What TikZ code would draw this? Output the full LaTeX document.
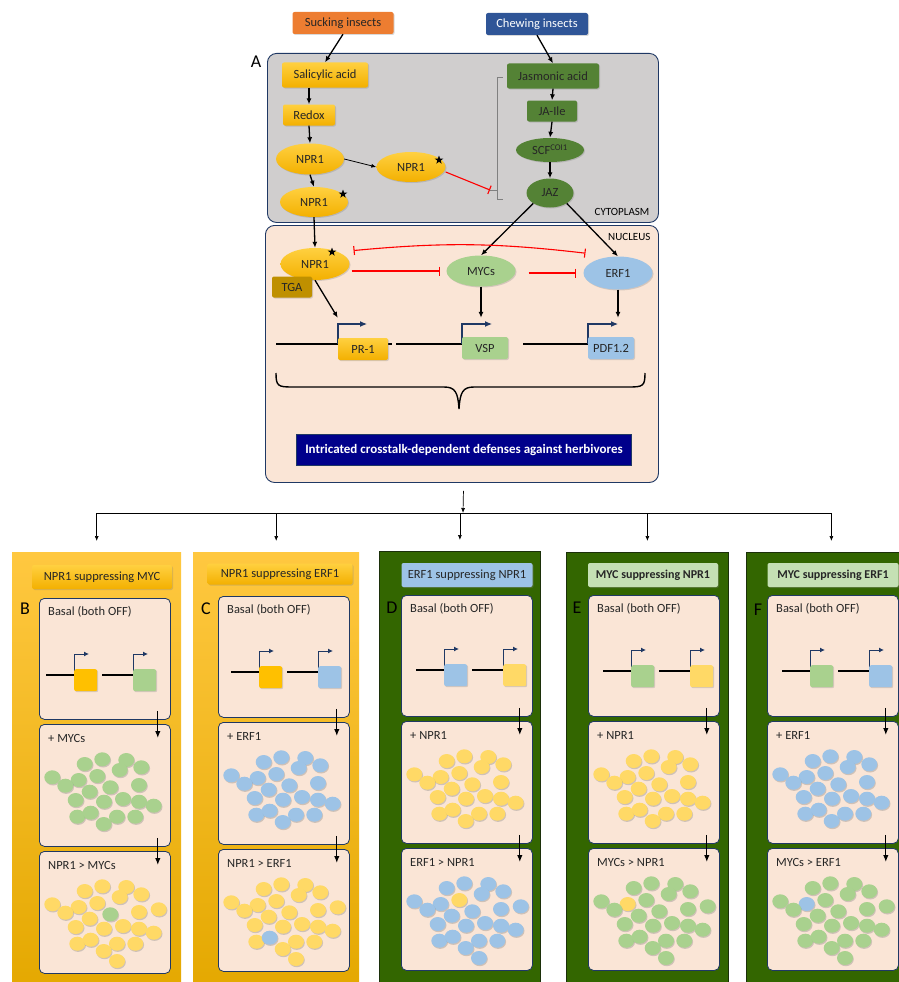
\documentclass[tikz,border=0pt]{standalone}
\usepackage{fontspec}
\setmainfont{Carlito}
\usetikzlibrary{arrows.meta,calc,shadows,shapes.geometric,positioning}

\definecolor{goldtop}{RGB}{255,208,64}
\definecolor{goldbot}{RGB}{243,176,0}
\definecolor{gold}{RGB}{255,192,0}
\definecolor{lightgold}{RGB}{255,217,102}
\definecolor{tgabrown}{RGB}{191,144,0}
\definecolor{jagreen}{RGB}{84,130,53}
\definecolor{mycgreen}{RGB}{169,209,142}
\definecolor{palegreen}{RGB}{197,224,180}
\definecolor{erfblue}{RGB}{157,195,230}
\definecolor{suckorange}{RGB}{237,125,49}
\definecolor{chewblue}{RGB}{47,85,151}
\definecolor{cellgray}{RGB}{208,206,206}
\definecolor{peach}{RGB}{250,229,214}
\definecolor{edgenavy}{RGB}{31,56,100}
\definecolor{bannerblue}{RGB}{0,0,139}
\definecolor{leafgreen}{RGB}{51,102,0}
\definecolor{leafedge}{RGB}{28,48,10}
\definecolor{paneltop}{RGB}{255,200,64}
\definecolor{panelbot}{RGB}{228,168,0}

% spots of the dots, from the north west corner of a stage box
\newcommand{\dotspots}{45.7/40, 63.3/35.3, 87.3/36, 102.3/43.3, 80.7/46, 13.3/53.3, 39.7/56, 58.3/52, 26.3/61.7, 71.3/63.3, 100/61, 50.7/67.7, 36.7/76, 65/77.7, 84/75, 100/77.7, 114.7/81.7, 38.3/92.7, 51.7/88.7, 78/92.7, 96.3/92.7, 64.7/100}
\newcommand{\dotextra}{119.7/58.3, 78/110}
% two genes, both off
\newcommand{\genepair}[5]{%
  \draw[minidna] (#2,#3) -- (#2+28,#3);
  \draw[minidna] (#2+56,#3) -- (#2+87,#3);
  \draw[miniprom] (#2+28,#3) -- (#2+28,#3-21) -- (#2+43,#3-21);
  \draw[miniprom] (#2+87,#3) -- (#2+87,#3-21) -- (#2+102,#3-21);
  \node[genesq, fill=#4, anchor=north west] (#1ga) at (#2+28,#3-6) {};
  \node[genesq, fill=#5, anchor=north west] (#1gb) at (#2+87,#3-6) {};
}

\begin{document}
\begin{tikzpicture}[x=1pt,y=-1pt,font=\fontsize{12.5}{15}\selectfont]

\tikzset{
  molbox/.style={rectangle, rounded corners=2pt, inner sep=1pt, align=center, text=black!85,
    drop shadow={opacity=0.3, shadow xshift=1pt, shadow yshift=-1pt}},
  goldbox/.style={molbox, top color=goldtop, bottom color=goldbot},
  jabox/.style={molbox, fill=jagreen},
  oval/.style={ellipse, inner sep=0pt, text=black!85,
    drop shadow={opacity=0.3, shadow xshift=1pt, shadow yshift=-1pt}},
  goldoval/.style={oval, top color=goldtop, bottom color=goldbot},
  jaoval/.style={oval, fill=jagreen},
  starmark/.style={star, star points=5, star point ratio=2.5, fill=black, inner sep=0pt, minimum size=9pt},
  compartment/.style={rectangle, rounded corners=9pt, draw=edgenavy, line width=0.9pt, anchor=north west},
  banner/.style={rectangle, fill=bannerblue, draw=edgenavy, text=white, font=\fontsize{13}{15}\selectfont\bfseries},
  panellab/.style={font=\fontsize{18}{20}\selectfont, inner sep=0pt},
  act/.style={-{Latex[length=6pt,width=5pt]}, line width=1.3pt},
  thinact/.style={-{Latex[length=5pt,width=4pt]}, line width=0.8pt},
  inh/.style={-{Bar[width=9pt]}, draw=red, line width=1.1pt},
  dualinh/.style={{Bar[width=9pt]}-{Bar[width=9pt]}, draw=red, line width=1.1pt},
  dna/.style={line width=1.4pt},
  promoter/.style={-{Latex[length=7pt,width=6pt]}, line width=1.1pt, draw=edgenavy},
  minidna/.style={line width=1.2pt},
  miniprom/.style={-{Latex[length=5pt,width=5pt]}, line width=1pt, draw=edgenavy},
  bracketline/.style={draw=gray, line width=0.6pt},
  flowar/.style={-{Latex[length=5pt,width=4pt]}, line width=0.7pt},
  stepar/.style={-{Latex[length=7pt,width=5.5pt]}, line width=1.2pt},
  blob/.style={ellipse, inner sep=0pt, minimum width=16, minimum height=14,
    drop shadow={opacity=0.35, shadow xshift=0.8pt, shadow yshift=-1.2pt}},
  genesq/.style={rectangle, rounded corners=2pt, inner sep=0pt, minimum width=23, minimum height=22,
    drop shadow={opacity=0.3, shadow xshift=1pt, shadow yshift=-1pt}},
  stagebox/.style={rectangle, rounded corners=5pt, fill=peach, draw=edgenavy, line width=0.8pt,
    anchor=north west, minimum width=131},
  steptext/.style={anchor=west, inner sep=0pt, text=black!85},
  goldpanel/.style={rectangle, anchor=north west, top color=paneltop, bottom color=panelbot, minimum height=440},
  leafpanel/.style={rectangle, anchor=north west, fill=leafgreen, draw=leafedge, line width=0.8pt, minimum height=440}
}

\useasboundingbox (0,0) rectangle (899,982);

% cell
\node[compartment, fill=cellgray, minimum width=391, minimum height=169] (cyto) at (267,53) {};
\node[compartment, fill=peach, minimum width=393, minimum height=257] (nuc) at (265,225) {};
\node[anchor=south east, font=\fontsize{11}{13}\selectfont] (cytolab) at ($(cyto.south east)+(-6,-4)$) {CYTOPLASM};
\node[anchor=north east, font=\fontsize{11}{13}\selectfont] (nuclab) at ($(nuc.north east)+(-5,5)$) {NUCLEUS};
\node[panellab] (labA) at (256,62) {A};

\node[molbox, fill=suckorange, minimum width=101, minimum height=22] (suck) at (343,23) {Sucking insects};
\node[molbox, fill=chewblue, text=white, minimum width=102, minimum height=22] (chew) at (537,24) {Chewing insects};

% SA side
\node[goldbox, minimum width=86, minimum height=25] (sa) at (325,75) {Salicylic acid};
\node[goldbox, minimum width=52, minimum height=21] (redox) at (309,115) {Redox};
\node[goldoval, minimum width=68, minimum height=31] (npa) at (310,159) {NPR1};
\node[goldoval, minimum width=69, minimum height=30] (npb) at (411,167) {NPR1};
\node[goldoval, minimum width=68, minimum height=30] (npc) at (314,202) {NPR1};
\node[starmark] (npbs) at (439,160) {};
\node[starmark] (npcs) at (343,194) {};

% JA side
\node[jabox, minimum width=92, minimum height=25] (ja) at (553,76) {Jasmonic acid};
\node[jabox, minimum width=50, minimum height=21] (jaile) at (552,111) {JA-Ile};
\node[jaoval, minimum width=68, minimum height=24] (scf) at (550,150) {SCF\textsuperscript{COI1}};
\node[jaoval, minimum width=47, minimum height=29] (jaz) at (550,193) {JAZ};
\draw[bracketline] ($(ja.west)+(-4,1)$) -- ++(-6,0) |- ($(jaz.west)+(-23.5,6)$);
\coordinate (brk) at (490,190);
\draw[bracketline] (brk) -- ++(7,0);

\draw[act] (suck.south) -- (sa.north);
\draw[act] (chew.south) -- (ja.north);
\draw[act] (sa.south -| redox.north) -- (redox.north);
\draw[act] (redox.south) -- (npa.north);
\draw[thinact] (npa.east) -- (npb.west);
\draw[act] (npa.south) -- (npc.north);
\draw[act] (ja.south) -- (jaile.north);
\draw[act] (jaile.south) -- (scf.north);
\draw[act] (scf.south) -- (jaz.north);
\draw[inh] ($(npb.east)+(0,5)$) -- (brk);

% nucleus
\node[goldoval, minimum width=69, minimum height=32] (npn) at (315,264) {NPR1};
\node[starmark] (npns) at (332,252) {};
\node[molbox, fill=tgabrown, minimum width=40, minimum height=21] (tga) at (292,287) {TGA};
\node[oval, fill=mycgreen, minimum width=69, minimum height=31] (myc) at (481,271) {MYCs};
\node[oval, fill=erfblue, minimum width=69, minimum height=33] (erf) at (618,273) {ERF1};

\draw[act] (npc.south) -- (npn.north);
\draw[act] (jaz.south west) -- (myc.north);
\draw[act] (jaz.south east) -- (erf.north);
\draw[inh] ($(npn.east)+(2,7)$) -- ($(myc.west)+(-6,0)$);
\draw[inh] ($(myc.east)+(13,2)$) -- ($(erf.west)+(-7,0)$);
\draw[dualinh] ($(npn.north east)+(14,-2)$) to[bend left=6] ($(erf.north west)+(-8,-8)$);

\draw[dna] (276,344) -- (392,344);
\draw[dna] (396,344) -- (462,344);
\draw[dna] (523,344) -- (588,344);
\draw[promoter] (338,344) -- (338,324) -- (367,324);
\draw[promoter] (462,344) -- (462,324) -- (492,324);
\draw[promoter] (588,344) -- (588,324) -- (618,324);
\node[goldbox, minimum width=50, minimum height=22] (pr) at (363,349) {PR-1};
\node[molbox, fill=mycgreen, minimum width=46, minimum height=22] (vsp) at (485,348) {VSP};
\node[molbox, fill=erfblue, minimum width=46, minimum height=22] (pdf) at (611,348) {PDF1.2};
\draw[act] (npn.south) -- ($(pr.north west)+(0,-20)$);
\draw[act] (myc.south) -- ($(vsp.north)+(-4,-19)$);
\draw[act] (erf.south) -- ($(pdf.north)+(7,-19)$);

\draw[line width=1.4pt] (276,373) .. controls (276,386) and (278,387) .. (292,387) -- (444,387)
  .. controls (455,387) and (458,392) .. (459,409) .. controls (460,392) and (463,387) .. (474,387)
  -- (629,387) .. controls (643,387) and (645,386) .. (645,373);
\node[banner, minimum width=335, minimum height=31] (defense) at (464,450) {Intricated crosstalk-dependent defenses against herbivores};

% panels
\node[goldpanel, minimum width=169] (pB) at (12,552) {};
\node[goldpanel, minimum width=166] (pC) at (193,552) {};
\node[leafpanel, minimum width=161] (pD) at (379,551) {};
\node[leafpanel, minimum width=162] (pE) at (566,552) {};
\node[leafpanel, minimum width=170] (pF) at (746,552) {};

\coordinate (split) at (463,513);
\draw[flowar] ($(nuc.south)+(1.5,8)$) -- (split);
\draw[line width=0.7pt] (split -| pB.north) -- (split -| pF.north);
\foreach \q in {pB,pC,pD,pE,pF}
  \draw[flowar] (split -| \q.north) -- ([yshift=11pt]\q.north);

\node[goldbox, minimum width=140, minimum height=24] (hB) at (102,577) {NPR1 suppressing MYC};
\node[goldbox, minimum width=145, minimum height=21] (hC) at (280,574) {NPR1 suppressing ERF1};
\node[molbox, fill=erfblue, minimum width=131, minimum height=24] (hD) at (467,575) {ERF1 suppressing NPR1};
\node[molbox, fill=palegreen, minimum width=130, minimum height=24, font=\fontsize{12}{14}\selectfont\bfseries] (hE) at (653,575) {MYC suppressing NPR1};
\node[molbox, fill=palegreen, minimum width=131, minimum height=24, font=\fontsize{12}{14}\selectfont\bfseries] (hF) at (833,575) {MYC suppressing ERF1};

\node[panellab] (labB) at (25,609) {B};
\node[panellab] (labC) at (206,609) {C};
\node[panellab] (labD) at (392,608) {D};
\node[panellab] (labE) at (577,608) {E};
\node[panellab] (labF) at (758,610) {F};

\foreach \pn/\bx/\by/\gx/\gy/\sqa/\sqb/\tta/\ttb/\dca/\dcb/\oi/\oc in {
  B/39/598/46/675/gold/mycgreen/{+ MYCs}/{NPR1 > MYCs}/mycgreen/lightgold/10/mycgreen,
  C/218/596/231/672/gold/erfblue/{+ ERF1}/{NPR1 > ERF1}/erfblue/lightgold/19/erfblue,
  D/401/595/416/670/erfblue/lightgold/{+ NPR1}/{ERF1 > NPR1}/lightgold/erfblue/8/lightgold,
  E/588/595/603/671/mycgreen/lightgold/{+ NPR1}/{MYCs > NPR1}/lightgold/mycgreen/7/lightgold,
  F/767/595/782/671/mycgreen/erfblue/{+ ERF1}/{MYCs > ERF1}/erfblue/mycgreen/7/erfblue}
{
  \node[stagebox, minimum height=121] (\pn1) at (\bx,\by) {};
  \node[stagebox, minimum height=122] (\pn2) at (\bx,\by+126) {};
  \node[stagebox, minimum height=122] (\pn3) at (\bx,\by+253) {};
  \node[steptext] (\pn t1) at ($(\pn1.north west)+(9,14)$) {Basal (both OFF)};
  \node[steptext] (\pn t2) at ($(\pn2.north west)+(9,14)$) {\tta};
  \node[steptext] (\pn t3) at ($(\pn3.north west)+(9,14)$) {\ttb};
  \genepair{\pn}{\gx}{\gy}{\sqa}{\sqb}
  \draw[stepar] ($(\pn1.south east)+(-13,-9)$) -- ($(\pn2.north east)+(-13,14)$);
  \draw[stepar] ($(\pn2.south east)+(-13,-9)$) -- ($(\pn3.north east)+(-13,14)$);
  \foreach \dx/\dy [count=\k] in \dotspots
    \node[blob, fill=\dca] (\pn d\k) at ($(\pn2.north west)+(\dx,\dy)$) {};
  \foreach \dx/\dy [count=\k] in \dotspots {
    \ifnum\k=\oi \def\dc{\oc}\else\def\dc{\dcb}\fi
    \node[blob, fill=\dc] (\pn e\k) at ($(\pn3.north west)+(\dx,\dy)$) {};
  }
  \foreach \dx/\dy [count=\k] in \dotextra
    \node[blob, fill=\dcb] (\pn x\k) at ($(\pn3.north west)+(\dx,\dy)$) {};
}
\end{tikzpicture}
\end{document}
